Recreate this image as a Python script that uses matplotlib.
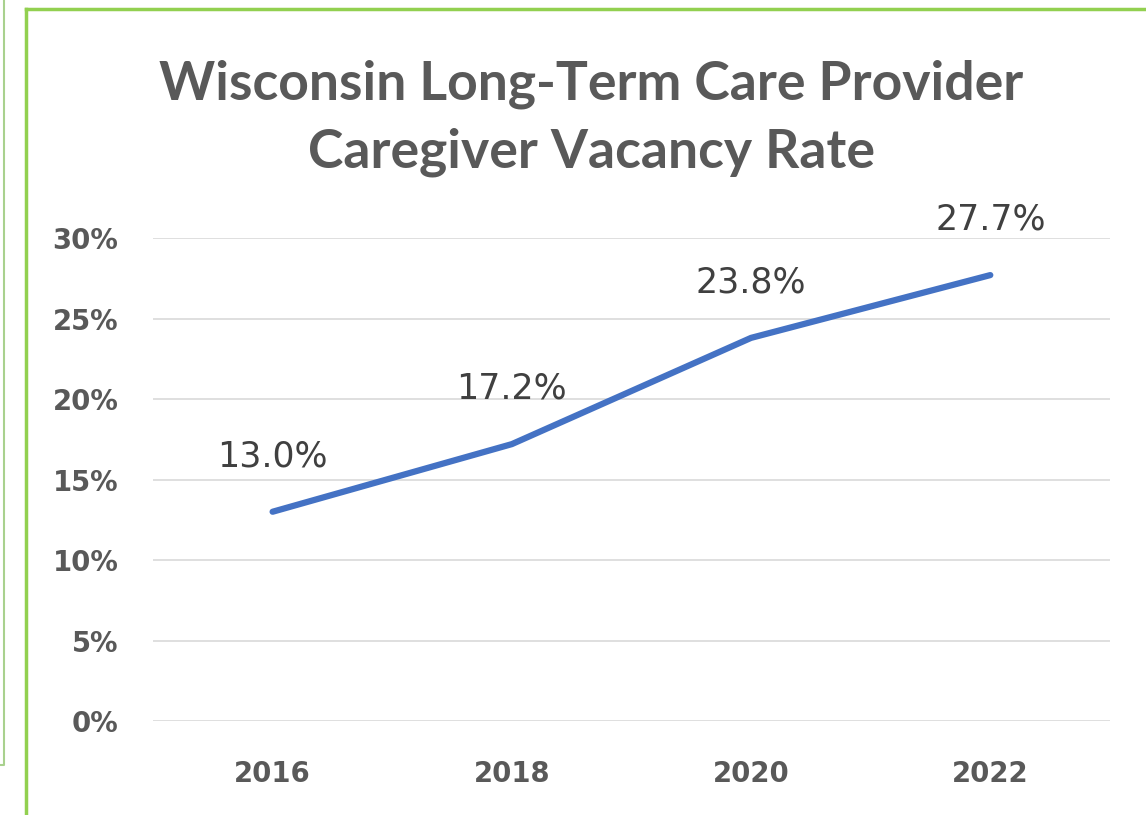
import matplotlib
matplotlib.use("Agg")
import matplotlib.pyplot as plt
from matplotlib.lines import Line2D

# data
years = ["2016", "2018", "2020", "2022"]
vacancy = [0.130, 0.172, 0.238, 0.277]
value_labels = ["13.0%", "17.2%", "23.8%", "27.7%"]
y_ticks = [0, 0.05, 0.10, 0.15, 0.20, 0.25, 0.30]
y_tick_labels = ["0%", "5%", "10%", "15%", "20%", "25%", "30%"]

title = "Wisconsin Long-Term Care Provider\nCaregiver Vacancy Rate"

fig = plt.figure(figsize=(11.46, 8.15), dpi=100)
ax = fig.add_axes([0.1335, 0.1153, 0.835, 0.5926])

x = range(len(years))
ax.plot(x, vacancy, color="#4472C4", linewidth=4.5, solid_capstyle="round")

for xi, v, lab in zip(x, vacancy, value_labels):
    ax.annotate(lab, (xi, v), xytext=(0, 40), textcoords="offset points",
                ha="center", va="center", fontsize=25, color="#404040",
                family="DejaVu Sans")

ax.set_xlim(-0.5, 3.5)
ax.set_ylim(0, 0.30)
ax.set_xticks(list(x))
ax.set_xticklabels(years)
ax.set_yticks(y_ticks)
ax.set_yticklabels(y_tick_labels)
for t in ax.get_xticklabels() + ax.get_yticklabels():
    t.set_fontweight("bold")
    t.set_fontsize(19.8)
    t.set_color("#595959")
    t.set_family("DejaVu Sans")
ax.tick_params(axis="both", length=0)
ax.tick_params(axis="x", pad=28)
ax.tick_params(axis="y", pad=25)
ax.grid(axis="y", color="#D9D9D9", linewidth=1.2)
ax.set_axisbelow(True)
for s in ax.spines.values():
    s.set_visible(False)

fig.text(0.516, 0.855, title, ha="center", va="center", fontsize=38.5,
         fontweight="bold", color="#595959", family="Lato",
         linespacing=1.45)

# green chart-area borders (screenshot frame)
W, H = 1146, 815
def fx(px):
    return px / W
def fy(py):
    return 1 - py / H
fig.add_artist(Line2D([fx(26), fx(26)], [fy(9), 0], color="#92D050", linewidth=2.5))
fig.add_artist(Line2D([fx(26), 1], [fy(9), fy(9)], color="#92D050", linewidth=2.5))
fig.add_artist(Line2D([fx(4), fx(4), fx(0)], [1, fy(765), fy(765)],
                      color="#A9D18E", linewidth=1.5))

fig.savefig("out.png", dpi=100)
